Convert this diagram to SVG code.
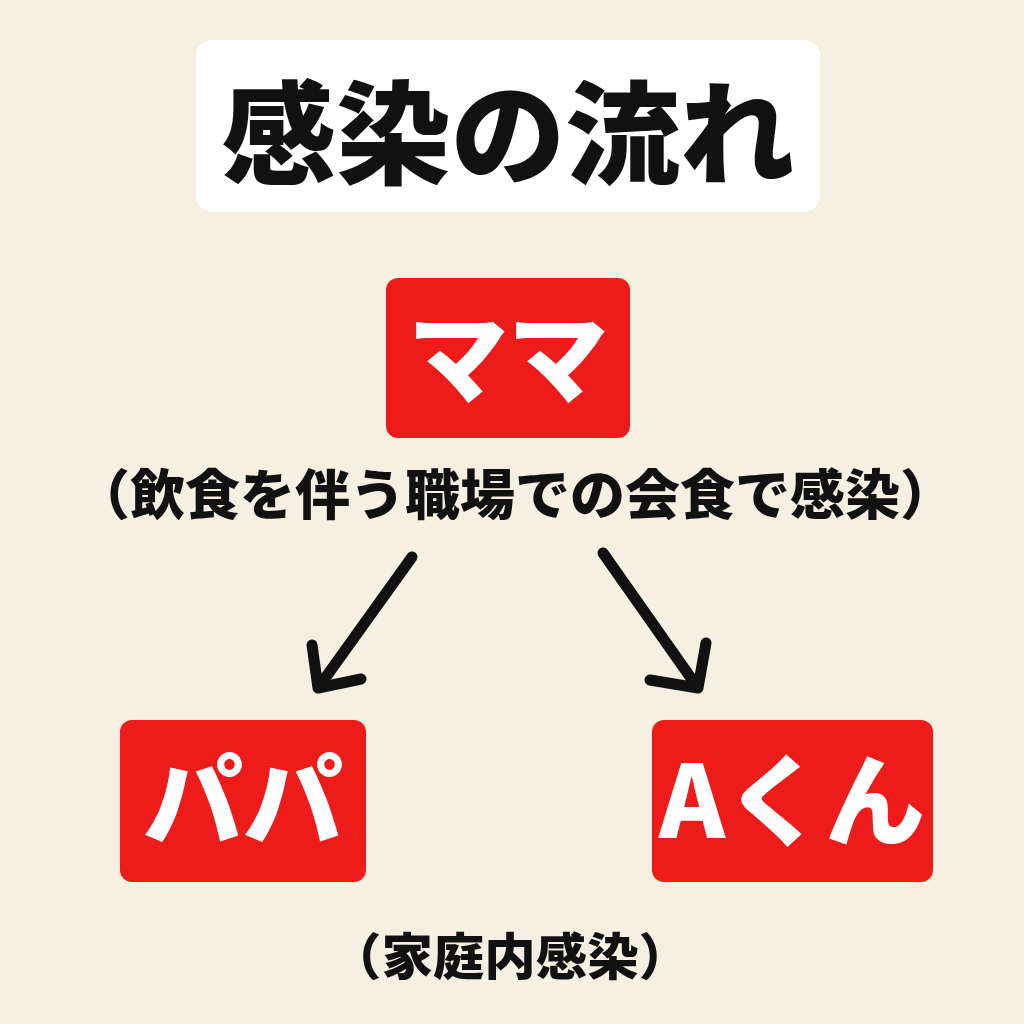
<svg xmlns="http://www.w3.org/2000/svg" width="1024" height="1024" viewBox="0 0 1024 1024">
<style>
.t{font-family:"Noto Sans CJK JP","Noto Sans",sans-serif;font-weight:900;text-anchor:middle}
.box{fill:#ee1b1b}
.w{fill:#fff}
.k{fill:#111}
.a{stroke:#111;stroke-width:11;fill:none;stroke-linecap:round;stroke-linejoin:round}
</style>
<rect width="1024" height="1024" fill="#f5f0e1"/>
<g id="title"><rect x="196" y="40" width="624" height="172" rx="16" fill="#fff"/>
<text class="t k" x="508" y="176" font-size="112" textLength="573" lengthAdjust="spacingAndGlyphs">感染の流れ</text></g>
<g id="mama"><rect class="box" x="386" y="278" width="244" height="160" rx="12"/>
<text class="t w" x="508" y="395" font-size="100">ママ</text></g>
<g id="note1"><text class="t k" x="515" y="515" font-size="54" font-weight="700" textLength="880" lengthAdjust="spacingAndGlyphs">（飲食を伴う職場での会食で感染）</text></g>
<g id="papa"><rect class="box" x="120" y="720" width="246" height="162" rx="12"/>
<text class="t w" x="243" y="838" font-size="100">パパ</text></g>
<g id="akun"><rect class="box" x="652" y="720" width="281" height="162" rx="12"/>
<text class="t w" x="792" y="838" font-size="100">Aくん</text></g>
<g id="note2"><text class="t k" x="510" y="975" font-size="50" font-weight="700" textLength="360" lengthAdjust="spacingAndGlyphs">（家庭内感染）</text></g>
<g id="connectors">
<path class="a" d="M412 557 L318 688 M312 645 L318 688 L361 679"/>
<path class="a" d="M603 553 L698 688 M650 680 L698 688 L706 643"/>
</g>
</svg>
